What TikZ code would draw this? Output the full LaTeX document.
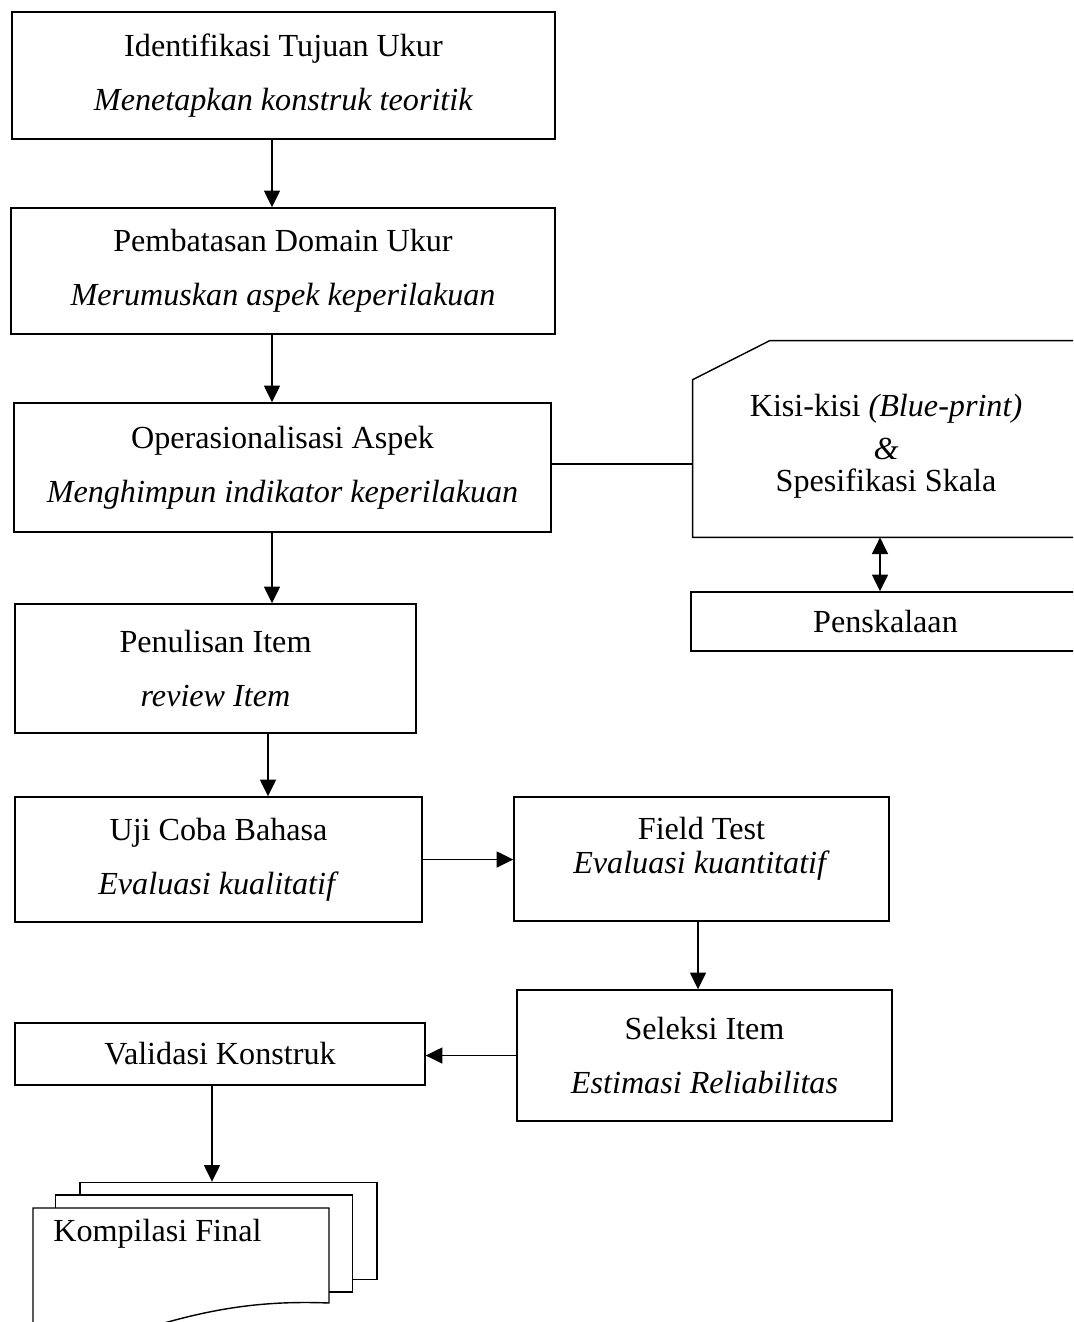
\documentclass[tikz,border=0pt]{standalone}
\usepackage{fontspec}
\setmainfont{Liberation Serif}
\usetikzlibrary{arrows.meta}
\tikzstyle{process} = [
    rectangle,
    draw=black,
    line width=0.8pt,
    fill=white,
    inner sep=0pt,
    align=center,
    font=\fontsize{18.3}{30.6}\selectfont
]
\tikzstyle{sheet} = [
    rectangle,
    draw=black,
    line width=0.8pt,
    fill=white,
    inner sep=0pt,
    minimum width=5.94cm,
    minimum height=1.94cm
]
\tikzstyle{plain} = [
    inner sep=0pt,
    align=center,
    font=\fontsize{18.3}{18.1}\selectfont
]
\tikzstyle{arrow} = [line width=1.1pt,-{Triangle[length=9.5pt,width=9pt]}]
\tikzstyle{both} = [line width=1.1pt,{Triangle[length=9.5pt,width=9pt]}-{Triangle[length=9.5pt,width=9pt]}]

\begin{document}
\begin{tikzpicture}[x=0.02cm,y=-0.02cm]
\useasboundingbox (0,0) rectangle (1073,1322);
\clip (0,0) rectangle (1073,1322);

\node (identifikasi) [process, minimum width=10.86cm, minimum height=2.54cm] at (283.5,75.5)
{Identifikasi Tujuan Ukur\\ \textit{Menetapkan konstruk teoritik}};

\node (pembatasan) [process, minimum width=10.88cm, minimum height=2.52cm] at (283,271)
{Pembatasan Domain Ukur\\ \textit{Merumuskan aspek keperilakuan}};

\node (operasional) [process, minimum width=10.74cm, minimum height=2.58cm] at (282.5,467.5)
{Operasionalisasi Aspek\\ \textit{Menghimpun indikator keperilakuan}};

\node (penulisan) [process, minimum width=8.02cm, minimum height=2.58cm] at (215.5,668.5)
{Penulisan Item\\ \textit{review Item}};

\node (ujicoba) [process, minimum width=8.14cm, minimum height=2.5cm] at (218.5,859.5)
{Uji Coba Bahasa\\ \textit{Evaluasi kualitatif}};

\node (fieldtest) [process, minimum width=7.5cm, minimum height=2.48cm] at (701.5,859) {};
\node (fieldtext) [process, draw=none, fill=none, font=\fontsize{18.3}{19.3}\selectfont]
    at (701.5,849) {Field Test\\ \textit{Evaluasi kuantitatif}};

\node (seleksi) [process, minimum width=7.5cm, minimum height=2.62cm] at (704.5,1055.5)
{Seleksi Item\\ \textit{Estimasi Reliabilitas}};

\node (validasi) [process, minimum width=8.2cm, minimum height=1.24cm] at (220,1054)
{Validasi Konstruk};

% kisi-kisi card, cut corner top left
\node (kisi) [inner sep=0pt, minimum width=7.94cm, minimum height=3.92cm] at (891.5,439) {};
\draw [line width=0.8pt] (kisi.south east) -- (kisi.south west)
    -- ([yshift=-0.78cm]kisi.north west) -- ([xshift=1.54cm]kisi.north west)
    -- (kisi.north east);
\node (kisitext) [plain] at (886,446)
{Kisi-kisi \textit{(Blue-print)}\\[6.3pt] \textit{\&}\\ Spesifikasi Skala};

\node (penskalaan) [process, minimum width=7.98cm, minimum height=1.18cm] at (890.5,621.5)
{\hspace*{-0.2cm}Penskalaan};

% kompilasi final, stacked sheets
\node (back) [sheet] at (228.5,1231) {};
\node (middle) [sheet] at (204,1243.5) {};
\draw [line width=0.8pt, fill=white] (33,1335) -- (33,1208) -- (329,1208) -- (329,1303)
    .. controls (255,1300) and (205,1311) .. (150,1327) -- (120,1335) -- cycle;
\node (kompilasi) [plain, anchor=west] at (53,1234) {Kompilasi Final};

\draw [arrow] (identifikasi.south -| 272,0) -- (pembatasan.north -| 272,0);
\draw [arrow] (pembatasan.south -| 272,0) -- (operasional.north -| 272,0);
\draw [arrow] (operasional.south -| 272,0) -- (penulisan.north -| 272,0);
\draw [arrow] (penulisan.south -| 268,0) -- (ujicoba.north -| 268,0);
\draw [arrow] (ujicoba.east) -- (fieldtest.west |- ujicoba.east);
\draw [arrow] (fieldtest.south -| 698,0) -- (seleksi.north -| 698,0);
\draw [arrow] (seleksi.west) -- (validasi.east |- seleksi.west);
\draw [arrow] (validasi.south -| 212,0) -- (back.north -| 212,0);
\draw [line width=0.8pt] (operasional.east |- 0,464) -- (kisi.west |- 0,464);
\draw [both] (kisi.south -| 880,0) -- (penskalaan.north -| 880,0);

\end{tikzpicture}
\end{document}
